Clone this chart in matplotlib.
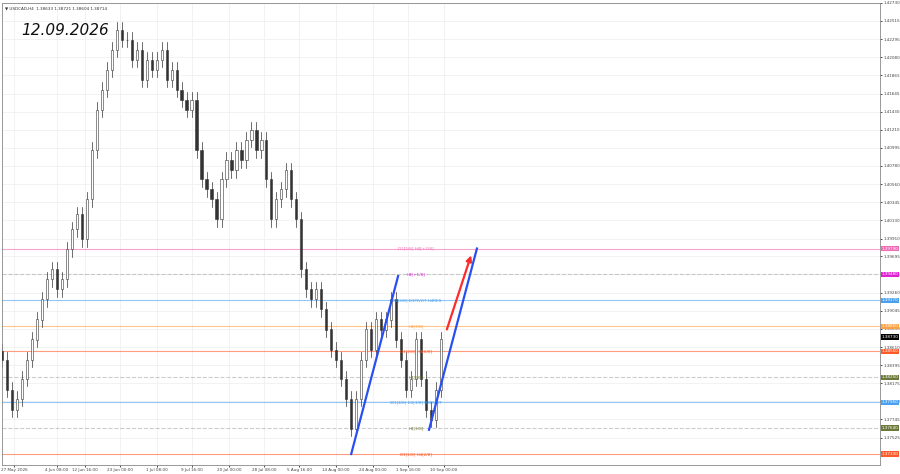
import matplotlib
matplotlib.use("Agg")
import matplotlib.pyplot as plt
from matplotlib.patches import Rectangle

closes = [1.3846,1.3810,1.3786,1.3799,1.3823,1.3846,1.3870,1.3894,1.3918,1.3942,1.3954,1.3930,1.3942,1.3978,1.4002,1.4020,1.3990,1.4038,1.4097,1.4145,1.4169,1.4193,1.4217,1.4241,1.4229,1.4229,1.4205,1.4217,1.4181,1.4205,1.4193,1.4205,1.4217,1.4181,1.4193,1.4169,1.4157,1.4145,1.4157,1.4097,1.4062,1.4050,1.4038,1.4014,1.4062,1.4085,1.4073,1.4097,1.4085,1.4109,1.4121,1.4097,1.4109,1.4062,1.4014,1.4038,1.4050,1.4073,1.4038,1.4014,1.3954,1.3930,1.3918,1.3930,1.3906,1.3882,1.3858,1.3846,1.3823,1.3799,1.3763,1.3799,1.3846,1.3882,1.3858,1.3894,1.3882,1.3894,1.3918,1.3870,1.3846,1.3810,1.3823,1.3870,1.3823,1.3786,1.3774,1.3810,1.3870]

yticks = [1.42730,1.42515,1.42295,1.42080,1.41865,1.41645,1.41430,1.41210,1.40995,1.40780,1.40560,1.40345,1.40130,1.39910,1.39695,1.39480,1.39260,1.39045,1.38830,1.38610,1.38395,1.38175,1.37960,1.37745,1.37525]
xtick_pos = [2.4,11,16.6,23.6,31,38,45.6,52.6,59.6,67,74.4,81.4,88.6]
xtick_labels = ["27 May 2026","4 Jun 08:00","12 Jun 16:00","23 Jun 00:00","1 Jul 08:00","9 Jul 16:00","20 Jul 00:00","28 Jul 08:00","5 Aug 16:00","14 Aug 00:00","24 Aug 00:00","1 Sep 16:00","10 Sep 00:00"]

levels = [1.3979,1.3948,1.3917,1.3886,1.3856,1.3825,1.3795,1.3764,1.3733]
level_labels = ["D1[5/8] H4[+2/8]","H4[+1/8]","W1[3/8] D1PIVOT H4RES","H4[7/8]","D1[2/8] H4[6/8]","H4[5/8]","W1[4/8] D1[3/8] H4PIVOT","H4[3/8]","D1[1/8] H4[2/8]"]
level_colors = ["#f06ab4","#e020d0","#4aa0f0","#ffa040","#ff5a2a","#6b7a3a","#4aa0f0","#6b7a3a","#ff5a2a"]
level_styles = ["-","--","-","-","-","--","-","--","-"]
current_price = 1.3873

fig = plt.figure(figsize=(9,4.74), dpi=100)
ax = fig.add_axes([2/900, 9/474, 878/900, 462/474])
ax.set_xlim(0, 176)
ax.set_ylim(1.37198, 1.42730)

for yv in yticks:
    ax.axhline(yv, color="#f0f0f0", lw=0.6, zorder=0)
for xv in xtick_pos:
    ax.axvline(xv, color="#f0f0f0", lw=0.6, zorder=0)

fs = 3.0
for lv, lab, c, ls in zip(levels, level_labels, level_colors, level_styles):
    lc = "#aaaaaa" if ls == "--" else c
    ax.axhline(lv, color=lc, lw=0.8, ls=ls, alpha=0.6, zorder=1)
    ax.text(83, lv, lab, color=c, fontsize=fs, ha="center", va="center", zorder=4)
    ax.text(176.4, lv, f"{lv:.5f}", color="white", fontsize=fs, va="center", ha="left",
            bbox=dict(boxstyle="square,pad=0.15", fc=c, ec="none"), clip_on=False, zorder=6)
ax.text(176.4, current_price, f"{current_price:.5f}", color="white", fontsize=fs, va="center", ha="left",
        bbox=dict(boxstyle="square,pad=0.15", fc="black", ec="none"), clip_on=False, zorder=6)

wick = 0.0009
for i, c in enumerate(closes):
    o = closes[i-1] if i > 0 else c + 0.0010
    hi = max(o, c) + wick
    lo = min(o, c) - wick
    ax.plot([i, i], [lo, hi], color="#333333", lw=0.5, zorder=2)
    ax.add_patch(Rectangle((i-0.22, min(o, c)), 0.44, abs(c-o)+1e-5,
                           fc="white" if c >= o else "#333333", ec="#333333", lw=0.4, zorder=3))

ax.plot([70, 79.4], [1.3733, 1.3946], color="#2a4ff0", lw=1.6, zorder=5)
ax.plot([85.6, 95.2], [1.3762, 1.3979], color="#2a4ff0", lw=1.6, zorder=5)
ax.annotate("", xy=(94.2, 1.3974), xytext=(89, 1.3879),
            arrowprops=dict(arrowstyle="-|>", color="#ff2a2a", lw=1.6, mutation_scale=8), zorder=5)

ax.yaxis.tick_right()
ax.set_yticks(yticks)
ax.set_yticklabels([f"{v:.5f}" for v in yticks], fontsize=fs, color="#444444")
ax.set_xticks(xtick_pos)
ax.set_xticklabels(xtick_labels, fontsize=fs, color="#444444")
ax.tick_params(length=1.5, width=0.5, pad=1)
for s in ax.spines.values():
    s.set_color("#888888"); s.set_linewidth(0.6)

ax.text(0.003, 0.993, "▼ USDCAD,H4  1.38633 1.38721 1.38604 1.38714", transform=ax.transAxes,
        fontsize=fs, va="top", color="#333333")
ax.text(0.022, 0.94, "12.09.2026", transform=ax.transAxes, fontsize=11, style="italic",
        va="center", color="#111111")

fig.savefig("out.png", dpi=100, facecolor="white")
